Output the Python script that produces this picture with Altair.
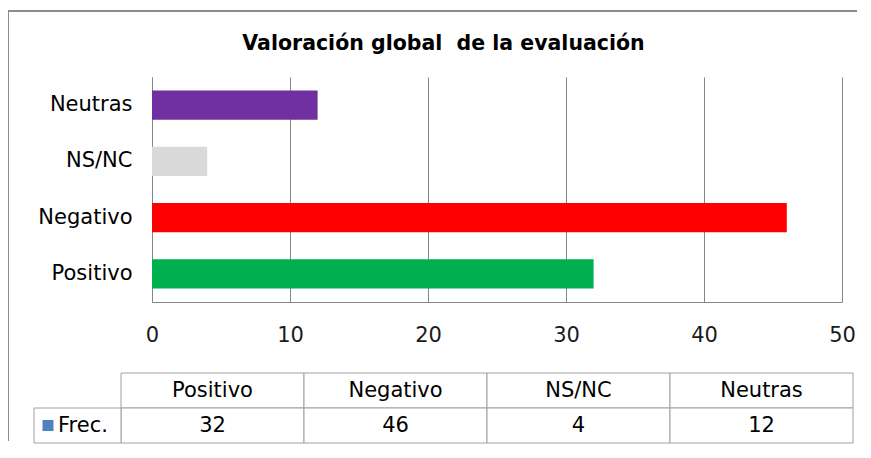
import altair as alt
import pandas as pd

# ---- data -------------------------------------------------------------
categorias = ["Positivo", "Negativo", "NS/NC", "Neutras"]
frecuencias = [32, 46, 4, 12]
colores = ["#00B050", "#FF0000", "#D9D9D9", "#7030A0"]
orden_barras = ["Neutras", "NS/NC", "Negativo", "Positivo"]
ticks_x = [0, 10, 20, 30, 40, 50]
titulo = "Valoración global \u00a0de la evaluación"
fila_serie = "Frec."
fila_cabecera = "cab"

# ---- style ------------------------------------------------------------
FONT = "DejaVu Sans"
FS = 21
PW, PH = 690, 225
GRID = "#868686"
FRAME = "#8C8C8C"
TABLE_LINE = "#A0A0A0"

df = pd.DataFrame({"cat": categorias, "val": frecuencias})
one = pd.DataFrame({"k": [0]})

x_scale = alt.Scale(domain=[ticks_x[0], ticks_x[-1]], nice=False)

bars = alt.Chart(df).mark_bar().encode(
    y=alt.Y(
        "cat:N",
        sort=orden_barras,
        scale=alt.Scale(paddingInner=0.48, paddingOuter=0.24),
        axis=alt.Axis(
            title=None, domainColor=GRID, ticks=False, tickSize=0,
            labelPadding=20, labelFont=FONT, labelFontSize=FS,
            labelColor="#000000", grid=False,
        ),
    ),
    x=alt.X(
        "val:Q",
        scale=x_scale,
        axis=alt.Axis(
            title=None, values=ticks_x, grid=True, gridColor=GRID,
            domainColor=GRID, ticks=False, tickSize=0, labelPadding=22,
            labelFlush=False,
            labelFont=FONT, labelFontSize=FS, labelColor="#1a1a1a",
        ),
    ),
    color=alt.Color("cat:N", scale=alt.Scale(domain=categorias, range=colores), legend=None),
)

title_layer = alt.Chart(df).mark_point(opacity=0).encode(
    x=alt.X(
        "val:Q",
        scale=x_scale,
        axis=alt.Axis(
            orient="top", title=titulo, labels=False, ticks=False,
            domain=False, grid=False, titleFont=FONT, titleFontSize=20.5,
            titleFontWeight="bold", titleColor="#000000", titleX=291,
            titleY=-28, titleBaseline="alphabetic", titleAlign="center",
        ),
    )
)

frame_top = alt.Chart(one).mark_rule(color=FRAME, strokeWidth=2).encode(
    x=alt.value(-145), x2=alt.value(705), y=alt.value(-66)
)
frame_left_top = alt.Chart(one).mark_rule(color=FRAME, strokeWidth=2).encode(
    x=alt.value(-144), y=alt.value(-66), y2=alt.value(295)
)

top = alt.layer(bars, title_layer, frame_top, frame_left_top).resolve_axis(
    x="independent"
).properties(width=PW, height=PH)

# ---- data table under the chart ---------------------------------------
tab = pd.DataFrame({
    "col": categorias * 2,
    "row": [fila_cabecera] * len(categorias) + [fila_serie] * len(categorias),
    "txt": categorias + [str(v) for v in frecuencias],
})
lab = pd.DataFrame({"row": [fila_serie], "txt": [fila_serie]})

row_scale = alt.Scale(domain=[fila_cabecera, fila_serie], paddingInner=0, paddingOuter=0)
col_scale = alt.Scale(domain=categorias, range=[-31, 701], paddingInner=0, paddingOuter=0)

cells = alt.Chart(tab).mark_rect(fill="white", stroke=TABLE_LINE, strokeWidth=1).encode(
    x=alt.X("col:N", scale=col_scale, axis=None),
    y=alt.Y("row:N", scale=row_scale, axis=None),
)
cell_text = alt.Chart(tab).mark_text(font=FONT, fontSize=FS, color="#000000").encode(
    x=alt.X("col:N", scale=col_scale, axis=None),
    y=alt.Y("row:N", scale=row_scale, axis=None),
    text="txt:N",
)
lab_rect = alt.Chart(lab).mark_rect(fill="white", stroke=TABLE_LINE, strokeWidth=1).encode(
    x=alt.value(-118), x2=alt.value(-31),
    y=alt.Y("row:N", scale=row_scale, axis=None),
)
lab_key = alt.Chart(lab).mark_square(size=121, color="#4F81BD", opacity=1).encode(
    x=alt.value(-104),
    y=alt.Y("row:N", scale=row_scale, axis=None),
)
lab_text = alt.Chart(lab).mark_text(font=FONT, fontSize=FS, color="#000000", align="left").encode(
    x=alt.value(-94),
    y=alt.Y("row:N", scale=row_scale, axis=None),
    text="txt:N",
)
frame_left_bottom = alt.Chart(one).mark_rule(color=FRAME, strokeWidth=2).encode(
    x=alt.value(-144), y=alt.value(-10), y2=alt.value(68)
)

table = alt.layer(cells, cell_text, lab_rect, lab_key, lab_text, frame_left_bottom).properties(
    width=701, height=70
)

chart = alt.vconcat(top, table, spacing=-11).properties(
    padding={"left": -2, "top": 2, "right": 0, "bottom": 0}
).configure_view(stroke=None)

chart.save("out.html", embed_options={"renderer": "svg", "actions": False})
